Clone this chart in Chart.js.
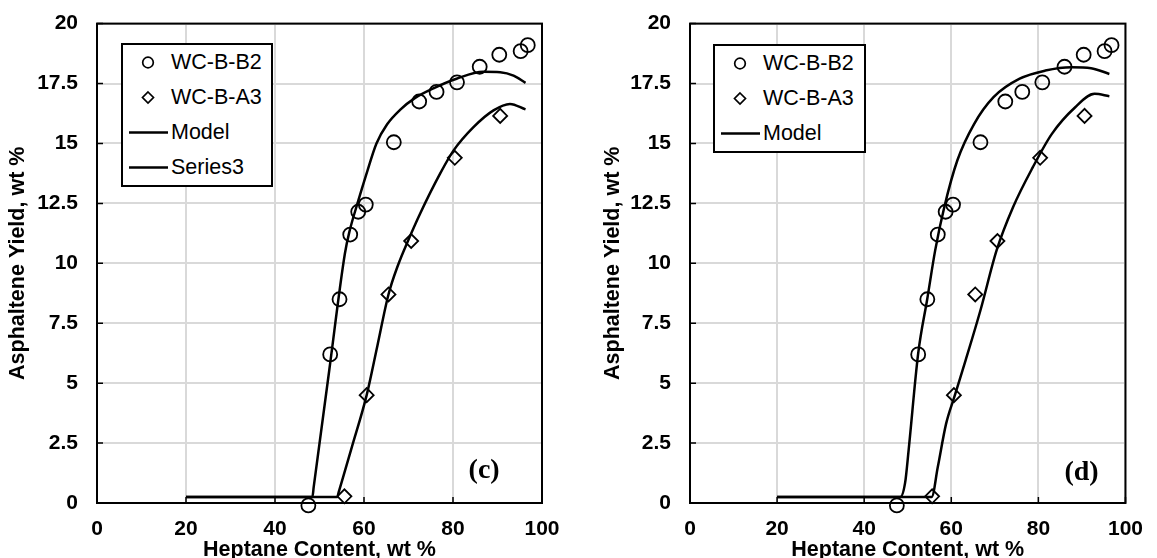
<!DOCTYPE html>
<html>
<head>
<meta charset="utf-8">
<title>Asphaltene yield vs heptane content</title>
<script src="https://cdn.jsdelivr.net/npm/chart.js@4.4.1/dist/chart.umd.min.js"></script>
<style>
  html, body { margin: 0; padding: 0; background: #fff; overflow: hidden; }
  .panel { position: absolute; top: -8px; width: 578px; height: 571px; }
  .legend {
    position: absolute; box-sizing: border-box; border: 2px solid #000; background: #fff;
    font: 21.5px "Liberation Sans", Arial, sans-serif; color: #000;
  }
  .legend .row { display: flex; align-items: center; height: 35px; }
  .legend svg { width: 47px; height: 35px; margin-right: 1px; flex: none; }
</style>
</head>
<body>
<div class="panel" style="left:0"><canvas id="chartC" width="578" height="571"></canvas><div class="legend" id="legendC"></div></div>
<div class="panel" style="left:579px"><canvas id="chartD" width="578" height="571"></canvas><div class="legend" id="legendD"></div></div>
<script>
// ===== DADOS =====
const b2Heptane = [47.5, 52.4, 54.5, 56.9, 58.7, 60.4, 66.7, 72.4, 76.3, 80.9, 86.0, 90.4, 95.2, 96.8];
const b2Yield   = [-0.1, 6.2, 8.5, 11.2, 12.15, 12.45, 15.05, 16.75, 17.15, 17.55, 18.2, 18.7, 18.85, 19.1];

const a3Heptane = [55.6, 60.6, 65.5, 70.6, 80.4, 90.6];
const a3Yield   = [0.28, 4.5, 8.7, 10.93, 14.4, 16.15];

// modelo (c)
const modelB2cX = [20, 48.4, 48.7, 52.2, 55.7, 56.7, 58.7, 60.5, 62.8, 65.2, 68.1, 71.5, 75.6, 80.8, 86.8, 90.6, 93.6, 96.3];
const modelB2cY = [0.25, 0.25, 0.67, 5.55, 10.4, 11.3, 12.6, 13.7, 15.0, 15.8, 16.4, 16.9, 17.3, 17.7, 17.99, 17.97, 17.83, 17.53];
const modelA3cX = [20, 54.0, 54.3, 57.3, 60.6, 63.0, 65.5, 67.7, 69.8, 72.6, 77.1, 80.1, 84.6, 89.1, 92.8, 96.3];
const modelA3cY = [0.25, 0.25, 0.44, 2.35, 4.5, 6.55, 8.7, 9.95, 10.9, 12.07, 13.74, 14.7, 15.68, 16.38, 16.65, 16.42];

// modelo (d)
const modelB2dX = [20, 48.3, 49.4, 50.2, 52.4, 54.5, 56.3, 58.4, 61.4, 65.2, 69.7, 75.7, 81.6, 87.6, 92.1, 96.3];
const modelB2dY = [0.25, 0.25, 0.85, 2.2, 6.24, 8.53, 10.54, 12.35, 14.3, 15.8, 16.93, 17.7, 18.04, 18.18, 18.14, 17.9];
const modelA3dX = [20, 55.5, 56.9, 58.8, 60.7, 63.3, 66.7, 70.4, 74.2, 78.7, 83.1, 88.4, 92.9, 96.3];
const modelA3dY = [0.25, 0.25, 1.5, 3.3, 4.43, 5.96, 8.04, 10.54, 12.35, 14.0, 15.4, 16.5, 17.07, 16.97];

const xTicks = [0, 20, 40, 60, 80, 100];
const yTicks = [0, 2.5, 5, 7.5, 10, 12.5, 15, 17.5, 20];

Chart.defaults.font.family = '"Liberation Sans", Arial, sans-serif';
Chart.defaults.color = '#000';

const pts = (xs, ys) => xs.map((x, i) => ({ x, y: ys[i] }));

// ===== PLUGINS =====
// moldura preta + marcas de escala para dentro + rótulo (c)/(d)
const frame = {
  id: 'frame',
  beforeDatasetsDraw(chart, args, opts) {
    const { ctx, chartArea: a, scales: { x, y } } = chart;
    ctx.save();
    ctx.strokeStyle = '#000';
    ctx.lineWidth = 2;
    ctx.strokeRect(a.left, a.top, a.width, a.height);
    ctx.lineWidth = 1.5;
    ctx.beginPath();
    y.ticks.forEach(t => {
      const py = y.getPixelForValue(t.value);
      ctx.moveTo(a.left, py); ctx.lineTo(a.left + 6, py);
    });
    x.ticks.forEach(t => {
      const px = x.getPixelForValue(t.value);
      ctx.moveTo(px, a.bottom); ctx.lineTo(px, a.bottom - 6);
    });
    ctx.stroke();

    ctx.font = 'bold 28px "Liberation Serif", "Times New Roman", serif';
    ctx.fillStyle = '#000';
    ctx.textAlign = 'center';
    ctx.textBaseline = 'middle';
    ctx.fillText(opts.text, x.getPixelForValue(opts.x), y.getPixelForValue(opts.y));
    ctx.restore();
  }
};

// legenda em HTML com borda, dentro da área do gráfico
const markers = {
  circle: '<circle cx="25" cy="17.5" r="5.3" fill="none" stroke="#000" stroke-width="1.7"/>',
  rectRot: '<polygon points="25,12 30.5,17.5 25,23 19.5,17.5" fill="none" stroke="#000" stroke-width="1.7"/>',
  line: '<line x1="6" y1="17.5" x2="45" y2="17.5" stroke="#000" stroke-width="2.5"/>'
};
const htmlLegend = {
  id: 'htmlLegend',
  afterUpdate(chart, args, opts) {
    const box = document.getElementById(opts.containerID);
    box.innerHTML = '';
    chart.data.datasets.forEach(ds => {
      if (ds.hideInLegend) return;
      const row = document.createElement('div');
      row.className = 'row';
      row.innerHTML = `<svg viewBox="0 0 47 35">${markers[ds.pointStyle]}</svg><span>${ds.label}</span>`;
      box.appendChild(row);
    });
    const a = chart.chartArea;
    box.style.left = (a.left + opts.dx) + 'px';
    box.style.top = (a.top + opts.dy) + 'px';
    box.style.width = opts.width + 'px';
  }
};

// ===== CONFIG =====
function makeDatasets(b2x, b2y, a3x, a3y, series3InLegend) {
  const obs = { showLine: false, borderColor: '#000', backgroundColor: 'rgba(0,0,0,0)', pointBorderWidth: 1.8, clip: false };
  const model = { showLine: true, pointRadius: 0, borderColor: '#000', borderWidth: 2.5, cubicInterpolationMode: 'monotone', pointStyle: 'line' };
  return [
    { label: 'WC-B-B2', data: pts(b2Heptane, b2Yield), pointStyle: 'circle', pointRadius: 7, ...obs },
    { label: 'WC-B-A3', data: pts(a3Heptane, a3Yield), pointStyle: 'rectRot', pointRadius: 7, ...obs },
    { label: 'Model', data: pts(b2x, b2y), ...model },
    { label: 'Series3', data: pts(a3x, a3y), ...model, hideInLegend: !series3InLegend }
  ];
}

function makeScales(yWidth) {
  const tickFont = { size: 21, weight: 'bold' };
  const titleFont = { size: 21.5, weight: 'bold' };
  const grid = { color: '#d9d9d9', lineWidth: 2, drawTicks: false };
  return {
    x: {
      type: 'linear', min: 0, max: 100,
      afterBuildTicks: s => { s.ticks = xTicks.map(v => ({ value: v })); },
      ticks: { padding: 14, maxRotation: 0, font: tickFont },
      grid, border: { display: false },
      title: { display: true, text: 'Heptane Content, wt %', font: titleFont, padding: 0 },
      afterFit: s => { s.height = 60; }
    },
    y: {
      type: 'linear', min: 0, max: 20,
      afterBuildTicks: s => { s.ticks = yTicks.map(v => ({ value: v })); },
      ticks: { padding: 19, font: tickFont },
      grid, border: { display: false },
      title: { display: true, text: 'Asphaltene Yield, wt %', font: titleFont, padding: { top: 5.6, bottom: 0 } },
      afterFit: s => { s.width = yWidth; }
    }
  };
}

function makeChart(id, datasets, padding, yWidth, tag, legendOpts) {
  return new Chart(document.getElementById(id), {
    type: 'scatter',
    data: { datasets },
    options: {
      responsive: false,
      animation: false,
      layout: { padding },
      scales: makeScales(yWidth),
      plugins: {
        legend: { display: false },
        tooltip: { enabled: false },
        frame: tag,
        htmlLegend: legendOpts
      }
    },
    plugins: [frame, htmlLegend]
  });
}

makeChart('chartC',
  makeDatasets(modelB2cX, modelB2cY, modelA3cX, modelA3cY, true),
  { left: 0, right: 36, top: 15, bottom: 0 }, 97,
  { text: '(c)', x: 87, y: 1.35 },
  { containerID: 'legendC', dx: 24, dy: 19, width: 152 });

makeChart('chartD',
  makeDatasets(modelB2dX, modelB2dY, modelA3dX, modelA3dY, false),
  { left: 16, right: 22, top: 15, bottom: 0 }, 95,
  { text: '(d)', x: 89.9, y: 1.25 },
  { containerID: 'legendD', dx: 23, dy: 20, width: 153 });
</script>
</body>
</html>
